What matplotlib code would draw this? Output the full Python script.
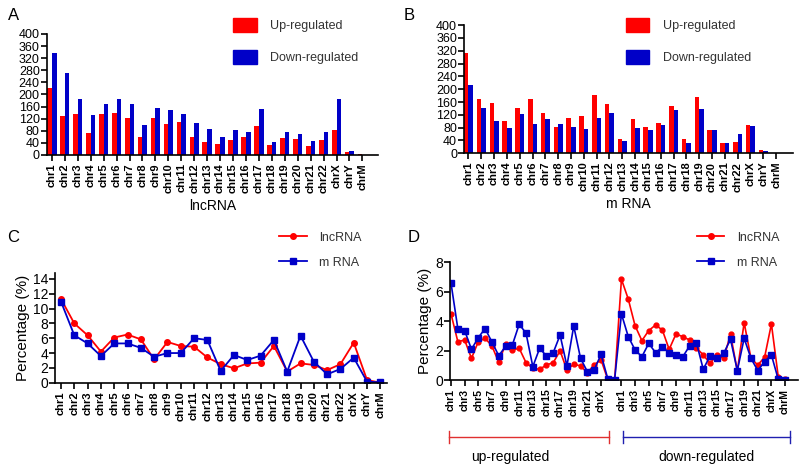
import numpy as np
import matplotlib
matplotlib.use('Agg')
import matplotlib.pyplot as plt
from matplotlib.lines import Line2D
from matplotlib.patches import Patch

chroms = ['chr' + str(i) for i in range(1, 23)] + ['chrX', 'chrY', 'chrM']

# A: lncRNA counts
lnc_up = [220, 129, 134, 74, 137, 140, 123, 58, 121, 101, 109, 58, 44, 36, 50, 58, 96, 34, 56, 53, 31, 50, 82, 9, 3]
lnc_down = [338, 272, 184, 131, 167, 184, 167, 98, 154, 148, 134, 107, 85, 58, 83, 75, 151, 42, 75, 69, 47, 75, 186, 13, 0]

# B: mRNA counts
m_up = [314, 168, 158, 102, 143, 171, 127, 81, 111, 118, 182, 155, 46, 106, 83, 94, 148, 46, 177, 72, 32, 34, 87, 10, 0]
m_down = [213, 142, 101, 80, 122, 92, 108, 92, 82, 77, 111, 125, 37, 79, 72, 89, 135, 31, 138, 72, 31, 60, 84, 8, 0]

# C: percentage of all DE genes
pct_lnc = [11.3, 8.0, 6.4, 4.2, 6.1, 6.5, 5.85, 3.15, 5.5, 4.95, 4.86, 3.4, 2.5, 1.94, 2.6, 2.7, 4.95, 1.5, 2.6, 2.4, 1.7, 2.5, 5.4, 0.36, 0.0]
pct_m = [10.95, 6.4, 5.3, 3.6, 5.3, 5.3, 4.7, 3.5, 4.0, 4.0, 6.0, 5.77, 1.58, 3.74, 3.06, 3.65, 5.77, 1.5, 6.35, 2.84, 1.13, 1.85, 3.38, 0.13, 0.05]

# D: percentage split by up / down
d_lnc_up = [4.5, 2.62, 2.73, 1.49, 2.62, 2.85, 2.33, 1.22, 2.46, 2.06, 2.17, 1.2, 0.81, 0.75, 1.04, 1.2, 2.0, 0.7, 1.1, 0.97, 0.52, 1.04, 1.4, 0.05, 0.0]
d_m_up = [6.58, 3.5, 3.37, 2.1, 2.9, 3.5, 2.6, 1.67, 2.3, 2.4, 3.8, 3.2, 0.93, 2.17, 1.65, 1.88, 3.07, 0.97, 3.68, 1.49, 0.59, 0.7, 1.76, 0.1, 0.05]
d_lnc_down = [6.85, 5.51, 3.7, 2.69, 3.37, 3.75, 3.41, 2.1, 3.14, 2.96, 2.73, 2.2, 1.72, 1.15, 1.72, 1.49, 3.12, 0.63, 3.91, 1.49, 1.04, 1.56, 3.82, 0.25, 0.07]
d_m_down = [4.5, 2.96, 2.06, 1.6, 2.5, 1.88, 2.24, 1.88, 1.72, 1.6, 2.33, 2.55, 0.75, 1.65, 1.49, 1.83, 2.78, 0.66, 2.85, 1.49, 0.66, 1.27, 1.72, 0.07, 0.02]

RED = '#ff0000'
BLUE = '#0000c8'

plt.rcParams['font.family'] = ['Liberation Sans', 'DejaVu Sans']

fig = plt.figure(figsize=(8, 4.66), dpi=100)


def style_axis(ax, ysize=10):
    ax.spines['top'].set_visible(False)
    ax.spines['right'].set_visible(False)
    ax.spines['left'].set_linewidth(1.2)
    ax.spines['bottom'].set_linewidth(1.2)
    ax.tick_params(axis='y', labelsize=ysize, length=4, width=1.2, pad=1)
    ax.tick_params(axis='x', length=4, width=1.2, pad=2)


def bar_panel(rect, up, down, xlabel, xlim):
    ax = fig.add_axes(rect)
    x = np.arange(len(chroms))
    w = 0.36
    ax.bar(x - w / 2, up, width=w, color=RED, label='Up-regulated')
    ax.bar(x + w / 2, down, width=w, color=BLUE, label='Down-regulated')
    ax.set_ylim(0, 400)
    ax.set_yticks(range(0, 401, 40))
    ax.set_xlim(*xlim)
    ax.set_xticks(x)
    ax.set_xticklabels(chroms, rotation=90, fontweight='bold', fontsize=8)
    ax.set_xlabel(xlabel, fontsize=10, labelpad=4)
    style_axis(ax, ysize=9)
    return ax


axA = bar_panel([0.0584, 0.6674, 0.414, 0.2597], lnc_up, lnc_down, 'lncRNA', (-0.4, 25.2))
axB = bar_panel([0.58, 0.671, 0.411, 0.275], m_up, m_down, 'm RNA', (-0.35, 25.3))

bar_handles = [Patch(color=RED, label='Up-regulated'), Patch(color=BLUE, label='Down-regulated')]
for ax, bx in [(axA, 0.277), (axB, 0.768)]:
    ax.legend(handles=bar_handles, loc='upper left', bbox_to_anchor=(bx, 0.985),
              bbox_transform=fig.transFigure, frameon=False, fontsize=9,
              handlelength=1.9, handleheight=1.3, labelspacing=1.45, handletextpad=1.1,
              labelcolor='#333333')

line_handles = [Line2D([], [], color=RED, marker='o', markersize=4, lw=1.3, label='lncRNA'),
                Line2D([], [], color=BLUE, marker='s', markersize=4.5, lw=1.3, label='m RNA')]

# C
axC = fig.add_axes([0.06875, 0.1788, 0.415, 0.236])
xc = np.arange(len(chroms))
axC.plot(xc, pct_lnc, color=RED, marker='o', markersize=4, lw=1.3)
axC.plot(xc, pct_m, color=BLUE, marker='s', markersize=5, lw=1.3)
axC.set_ylim(0, 14.85)
axC.set_yticks(range(0, 15, 2))
axC.set_xlim(-0.45, 24.5)
axC.set_xticks(xc)
axC.set_xticklabels(chroms, rotation=90, fontweight='bold', fontsize=8)
axC.set_ylabel('Percentage (%)', fontsize=11, labelpad=2)
style_axis(axC)
axC.legend(handles=line_handles, loc='upper left', bbox_to_anchor=(0.335, 0.527),
           bbox_transform=fig.transFigure, frameon=False, fontsize=9,
           handlelength=2.2, labelspacing=1.05, handletextpad=1.0, labelcolor='#333333')

# D
axD = fig.add_axes([0.5625, 0.1839, 0.435, 0.2532])
n = len(chroms)
xd = np.arange(2 * n)
axD.plot(xd, d_lnc_up + d_lnc_down, color=RED, marker='o', markersize=3.5, lw=1.2)
axD.plot(xd, d_m_up + d_m_down, color=BLUE, marker='s', markersize=4.5, lw=1.2)
axD.set_ylim(0, 8)
axD.set_yticks([0, 2, 4, 6, 8])
axD.set_xlim(-0.15, 2 * n + 0.9)
tick_pos = [i for i in range(0, 23, 2)] + [n + i for i in range(0, 25, 2)]
tick_lab = [chroms[i] for i in range(0, 23, 2)] + [chroms[i] for i in range(0, 25, 2)]
axD.set_xticks(tick_pos)
axD.set_xticklabels(tick_lab, rotation=90, fontweight='bold', fontsize=7.5)
axD.set_ylabel('Percentage (%)', fontsize=11, labelpad=2)
style_axis(axD)
axD.legend(handles=line_handles, loc='upper left', bbox_to_anchor=(0.857, 0.527),
           bbox_transform=fig.transFigure, frameon=False, fontsize=9,
           handlelength=2.2, labelspacing=1.05, handletextpad=1.0, labelcolor='#333333')

# brackets under panel D
yb = 1 - 437 / 466
for x0, x1, col in [(449, 609, '#e03030'), (623, 790, '#2020b0')]:
    fig.add_artist(Line2D([x0 / 800, x1 / 800], [yb, yb], color=col, lw=1, transform=fig.transFigure))
    for xx in (x0, x1):
        fig.add_artist(Line2D([xx / 800, xx / 800], [yb - 0.012, yb + 0.012], color=col, lw=1,
                              transform=fig.transFigure))
fig.text(510 / 800, 1 - 457 / 466, 'up-regulated', ha='center', va='center', fontsize=10)
fig.text(706 / 800, 1 - 457 / 466, 'down-regulated', ha='center', va='center', fontsize=10)

# panel letters
for lbl, px, py in [('A', 8, 15), ('B', 404, 15), ('C', 7, 238), ('D', 408, 238)]:
    fig.text(px / 800, 1 - py / 466, lbl, fontsize=12, ha='left', va='center')

fig.savefig('out.png', dpi=100)
